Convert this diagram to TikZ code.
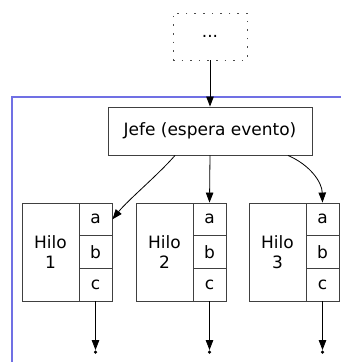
\documentclass[tikz,border=0pt]{standalone}
\usepackage{fontspec}
\setmainfont{DejaVu Sans}
\usetikzlibrary{arrows.meta}
\definecolor{framecol}{RGB}{112,112,228}
\begin{document}
\begin{tikzpicture}[x=1pt,y=-1pt,
  box/.style={draw=black!75, line width=0.9pt, rectangle, inner sep=0pt, font=\fontsize{17}{20}\selectfont, align=center},
  hilo/.style={box, minimum width=57pt, minimum height=98pt},
  cell/.style={box, minimum width=33pt, minimum height=32.67pt},
  arr/.style={-{Triangle[length=10pt,width=7.5pt]}, line width=0.8pt},
  endpt/.style={circle, fill=black, inner sep=0pt, minimum size=3.5pt}]
\useasboundingbox (0,0) rectangle (341,362);
\draw[framecol, line width=1.3pt] (12,362) -- (12,97) -- (341,97);
\node[box, draw=black!70, dash pattern=on 1.6pt off 7pt, minimum width=74pt, minimum height=47pt] (top) at (210,36.5) {...};
\node[box, minimum width=204pt, minimum height=48pt] (jefe) at (210,131) {Jefe (espera evento)};
% Hilo 1
\node[hilo] (h1) at (50.5,252) {Hilo\\1};
\node[cell] (h1a) at (95.5,219.33) {a};
\node[cell] (h1b) at (95.5,252) {b};
\node[cell] (h1c) at (95.5,284.67) {c};
% Hilo 2
\node[hilo] (h2) at (164.5,252) {Hilo\\2};
\node[cell] (h2a) at (209.5,219.33) {a};
\node[cell] (h2b) at (209.5,252) {b};
\node[cell] (h2c) at (209.5,284.67) {c};
% Hilo 3
\node[hilo] (h3) at (277.5,252) {Hilo\\3};
\node[cell] (h3a) at (322.5,219.33) {a};
\node[cell] (h3b) at (322.5,252) {b};
\node[cell] (h3c) at (322.5,284.67) {c};
% end points
\node[endpt] (e1) at (95.5,352) {};
\node[endpt] (e2) at (209.5,352) {};
\node[endpt] (e3) at (322.5,352) {};
% connectors
\draw[arr] (top.south) -- (jefe.north);
\draw[arr] (jefe.south) -- (h2a.north);
\draw[arr] ([xshift=-35pt]jefe.south) .. controls (158,175) and (128,200) .. (h1a.east);
\draw[arr] ([xshift=78pt]jefe.south) .. controls (310,165) and (322,182) .. (h3a.north);
\draw[arr] (h1c.south) -- (e1);
\draw[arr] (h2c.south) -- (e2);
\draw[arr] (h3c.south) -- (e3);
\end{tikzpicture}
\end{document}
